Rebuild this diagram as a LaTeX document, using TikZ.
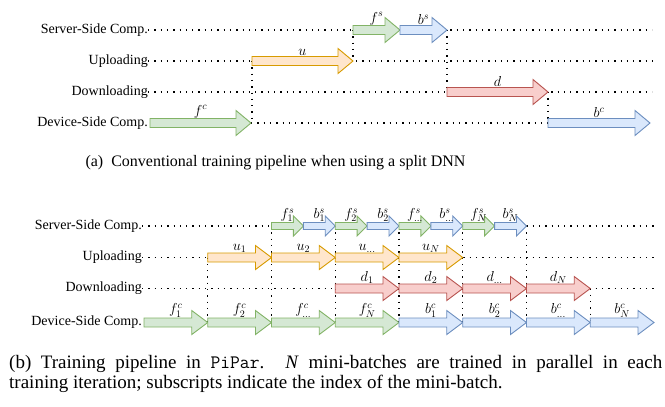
\documentclass[tikz,border=0pt]{standalone}
\usepackage{fontspec}
\setmainfont{Liberation Serif}
\usetikzlibrary{calc}
\definecolor{gfill}{HTML}{D5E8D4}\definecolor{gdraw}{HTML}{82B366}
\definecolor{bfill}{HTML}{DAE8FC}\definecolor{bdraw}{HTML}{6C8EBF}
\definecolor{ofill}{HTML}{FFE6CC}\definecolor{odraw}{HTML}{D79B00}
\definecolor{rfill}{HTML}{F8CECC}\definecolor{rdraw}{HTML}{B85450}
\tikzset{
  green/.style={fill=gfill,draw=gdraw,line width=0.9pt,line join=miter},
  blue/.style={fill=bfill,draw=bdraw,line width=0.9pt,line join=miter},
  orange/.style={fill=ofill,draw=odraw,line width=0.9pt,line join=miter},
  red/.style={fill=rfill,draw=rdraw,line width=0.9pt,line join=miter},
  dotline/.style={line width=1.3pt,dash pattern=on 1.3pt off 5pt,black},
  lab/.style={anchor=south,inner sep=0.5pt,font=\fontsize{14}{16}\selectfont},
  rowlab/.style={anchor=east,inner sep=0pt,font=\fontsize{14}{16}\selectfont},
  captxt/.style={anchor=base west,inner sep=0pt,font=\fontsize{19}{20}\selectfont},
}
% #1 name, #2 style, #3 x1, #4 x2, #5 y, #6 body half, #7 head half, #8 head length
\newcommand\farr[8]{%
  \draw[#2] (#3,{#5-#6}) -- ({#4-#8},{#5-#6}) -- ({#4-#8},{#5-#7}) -- (#4,#5)
     -- ({#4-#8},{#5+#7}) -- ({#4-#8},{#5+#6}) -- (#3,{#5+#6}) -- cycle;
  \coordinate (#1-s) at (#3,#5);
  \coordinate (#1-e) at (#4,#5);
  \coordinate (#1-t) at ({(#3+#4)/2},{#5-#6});}
\newcommand\tarr[6]{\farr{#1}{#2}{#3}{#4}{#5}{4.5}{12.5}{15}\node[lab] (#1-l) at (#1-t) {#6};}
\newcommand\barr[6]{\farr{#1}{#2}{#3}{#4}{#5}{4.5}{12}{16}\node[lab] (#1-l) at (#1-t) {#6};}
\newcommand\sarr[6]{\farr{#1}{#2}{#3}{#4}{#5}{3.5}{10}{10}\node[lab] (#1-l) at (#1-t) {#6};}
\begin{document}
\begin{tikzpicture}[x=1pt,y=-1pt]
\useasboundingbox (0,0) rectangle (665,407);
% ---------------- (a) ----------------
\node[rowlab] (tS) at (148,30) {Server-Side Comp.};
\node[rowlab] (tU) at (148,61) {Uploading};
\node[rowlab] (tD) at (148,92) {Downloading};
\node[rowlab] (tC) at (148,123) {Device-Side Comp.};
\coordinate (tSe) at (652,30);
\coordinate (tUe) at (655,61);
\coordinate (tDe) at (652,92);
\draw[dotline] (tS.east) -- (tSe);
\draw[dotline] (tU.east) -- (tUe);
\draw[dotline] (tD.east) -- (tDe);
\coordinate (tC1) at (251,123);
\coordinate (tC2) at (548,123);
\draw[dotline] (tC1) -- (tC2);
\draw[dotline] (252,61) -- (252,123);
\draw[dotline] (353,30) -- (353,61);
\draw[dotline] (447,30) -- (447,92);
\draw[dotline] (548,92) -- (548,123);
\tarr{fc}{green}{150}{251}{123}{$f^c$}
\tarr{u}{orange}{252}{353}{61}{$u$}
\tarr{fs}{green}{353}{400}{30}{$f^s$}
\tarr{bs}{blue}{400}{447}{30}{$b^s$}
\tarr{d}{red}{447}{548}{92}{$d$}
\tarr{bc}{blue}{548}{650}{123}{$b^c$}
\node[anchor=base,inner sep=0pt,font=\fontsize{16}{19}\selectfont] (capa) at (275.5,166) {(a)\enspace Conventional training pipeline when using a split DNN};
% ---------------- (b) ----------------
\node[rowlab] (bS) at (142,226) {Server-Side Comp.};
\node[rowlab] (bU) at (142,257.5) {Uploading};
\node[rowlab] (bD) at (142,288.5) {Downloading};
\node[rowlab] (bC) at (142,322.5) {Device-Side Comp.};
\coordinate (bSe) at (655,226);
\coordinate (bUe) at (655,257.5);
\coordinate (bDe) at (655,288.5);
\draw[dotline] (bS.east) -- (bSe);
\draw[dotline] (bU.east) -- (bUe);
\draw[dotline] (bD.east) -- (bDe);
\draw[dotline] (207.75,257.5) -- (207.75,322.5);
\foreach \x in {271.5,335.25,399,462.75,526.5} \draw[dotline] (\x,226) -- (\x,322.5);
\draw[dotline] (590.25,288.5) -- (590.25,322.5);
% server
\sarr{f1s}{green}{271.5}{303.4}{226}{$f_1^s$}
\sarr{b1s}{blue}{303.4}{335.25}{226}{$b_1^s$}
\sarr{f2s}{green}{335.25}{367.1}{226}{$f_2^s$}
\sarr{b2s}{blue}{367.1}{399}{226}{$b_2^s$}
\sarr{fds}{green}{399}{430.9}{226}{$f_{\dots}^s$}
\sarr{bds}{blue}{430.9}{462.75}{226}{$b_{\dots}^s$}
\sarr{fNs}{green}{462.75}{494.6}{226}{$f_N^s$}
\sarr{bNs}{blue}{494.6}{526.5}{226}{$b_N^s$}
% upload
\barr{u1}{orange}{207.75}{271.5}{257.5}{$u_1$}
\barr{u2}{orange}{271.5}{335.25}{257.5}{$u_2$}
\barr{ud}{orange}{335.25}{399}{257.5}{$u_{\dots}$}
\barr{uN}{orange}{399}{462.75}{257.5}{$u_N$}
% download
\barr{d1}{red}{335.25}{399}{288.5}{$d_1$}
\barr{d2}{red}{399}{462.75}{288.5}{$d_2$}
\barr{dd}{red}{462.75}{526.5}{288.5}{$d_{\dots}$}
\barr{dN}{red}{526.5}{590.25}{288.5}{$d_N$}
% device
\barr{f1c}{green}{144}{207.75}{322.5}{$f_1^c$}
\barr{f2c}{green}{207.75}{271.5}{322.5}{$f_2^c$}
\barr{fdc}{green}{271.5}{335.25}{322.5}{$f_{\dots}^c$}
\barr{fNc}{green}{335.25}{399}{322.5}{$f_N^c$}
\barr{b1c}{blue}{399}{462.75}{322.5}{$b_1^c$}
\barr{b2c}{blue}{462.75}{526.5}{322.5}{$b_2^c$}
\barr{bdc}{blue}{526.5}{590.25}{322.5}{$b_{\dots}^c$}
\barr{bNc}{blue}{590.25}{654}{322.5}{$b_N^c$}
\node[captxt] (capb1) at (9,368)
  {\makebox[653pt][s]{(b)\enspace Training pipeline in \texttt{PiPar}. \textit{N} mini-batches are trained in parallel in each}};
\node[captxt] (capb2) at (9,388)
  {training iteration; subscripts indicate the index of the mini-batch.};
\end{tikzpicture}
\end{document}
